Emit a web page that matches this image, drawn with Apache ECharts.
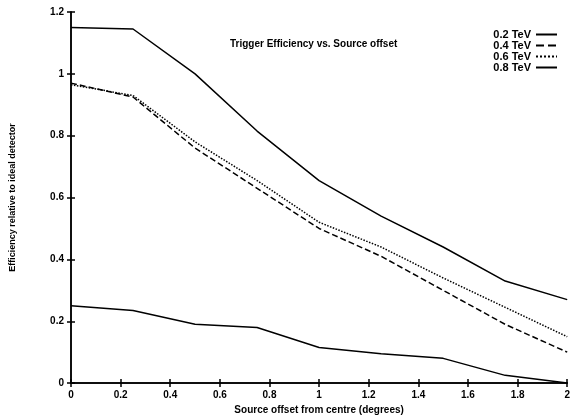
<!DOCTYPE html>
<html>
<head>
<meta charset="utf-8">
<script src="https://cdn.jsdelivr.net/npm/echarts@6/dist/echarts.min.js"></script>
<style>
html,body{margin:0;padding:0;background:#fff;}
#chart{width:573px;height:420px;}
</style>
</head>
<body>
<div id="chart"></div>
<script>
var offsets = [0, 0.25, 0.5, 0.75, 1.0, 1.25, 1.5, 1.75, 2.0];
var eff02 = [0.25, 0.235, 0.19, 0.18, 0.115, 0.095, 0.08, 0.025, 0.0];
var eff04 = [0.97, 0.925, 0.76, 0.63, 0.50, 0.41, 0.30, 0.19, 0.10];
var eff06 = [0.965, 0.93, 0.78, 0.655, 0.52, 0.44, 0.34, 0.245, 0.15];
var eff08 = [1.15, 1.145, 1.0, 0.815, 0.655, 0.54, 0.44, 0.33, 0.27];
var seriesNames = ['0.2 TeV', '0.4 TeV', '0.6 TeV', '0.8 TeV'];
var lineTypes = ['solid', 'dashed', 'dotted', 'solid'];
var allData = [eff02, eff04, eff06, eff08];

var font = '"Liberation Sans", Arial, sans-serif';
function pairs(ys){ return offsets.map(function(x,i){ return [x, ys[i]]; }); }

var chart = echarts.init(document.getElementById('chart'), null, {renderer:'canvas'});
var axisLine = {show:true, lineStyle:{color:'#000', width:1.5}};
var tick = {show:true, inside:true, length:4, lineStyle:{color:'#000', width:1.5}};
var option = {
  animation:false,
  backgroundColor:'#fff',
  title:{
    text:'Trigger Efficiency vs. Source offset',
    left:225, top:34,
    textStyle:{fontFamily:font, fontSize:10, fontWeight:'bold', color:'#000'}
  },
  legend:{
    orient:'vertical', right:10, top:24, align:'right',
    itemWidth:21, itemHeight:6, itemGap:0,
    itemStyle:{opacity:0},
    textStyle:{fontFamily:font, fontSize:11, fontWeight:'bold', color:'#000', lineHeight:9},
    data: seriesNames.slice()
  },
  grid:{left:71, right:2, top:12, bottom:34},
  xAxis:[{
    type:'value', min:0, max:2, interval:0.2,
    axisLine:axisLine, axisTick:tick, splitLine:{show:false},
    axisLabel:{fontFamily:font, fontSize:10, fontWeight:'bold', color:'#000', margin:7,
      formatter:function(v){ return +v.toFixed(1) + ''; }},
    name:'Source offset from centre (degrees)', nameLocation:'middle', nameGap:17,
    nameTextStyle:{fontFamily:font, fontSize:10, fontWeight:'bold', color:'#000'}
  },{
    type:'value', position:'top', min:0, max:2, interval:0.2,
    axisLine:axisLine, axisTick:tick, axisLabel:{show:false}, splitLine:{show:false}
  }],
  yAxis:[{
    type:'value', min:0, max:1.2, interval:0.2,
    axisLine:axisLine, axisTick:tick, splitLine:{show:false},
    axisLabel:{fontFamily:font, fontSize:10, fontWeight:'bold', color:'#000', margin:7,
      formatter:function(v){ return +v.toFixed(1) + ''; }},
    name:'Efficiency relative to ideal detector', nameLocation:'middle', nameGap:54,
    nameTextStyle:{fontFamily:font, fontSize:9, fontWeight:'bold', color:'#000'}
  },{
    type:'value', position:'right', min:0, max:1.2, interval:0.2,
    axisLine:axisLine, axisTick:tick, axisLabel:{show:false}, splitLine:{show:false}
  }],
  series: allData.map(function(d,i){
    return {
      name:seriesNames[i], type:'line', data:pairs(d),
      xAxisIndex:0, yAxisIndex:0,
      showSymbol:false, symbol:'none',
      lineStyle:{color:'#000', width:1.5, type:lineTypes[i]},
      itemStyle:{color:'#000'}
    };
  })
};
chart.setOption(option);
</script>
</body>
</html>
